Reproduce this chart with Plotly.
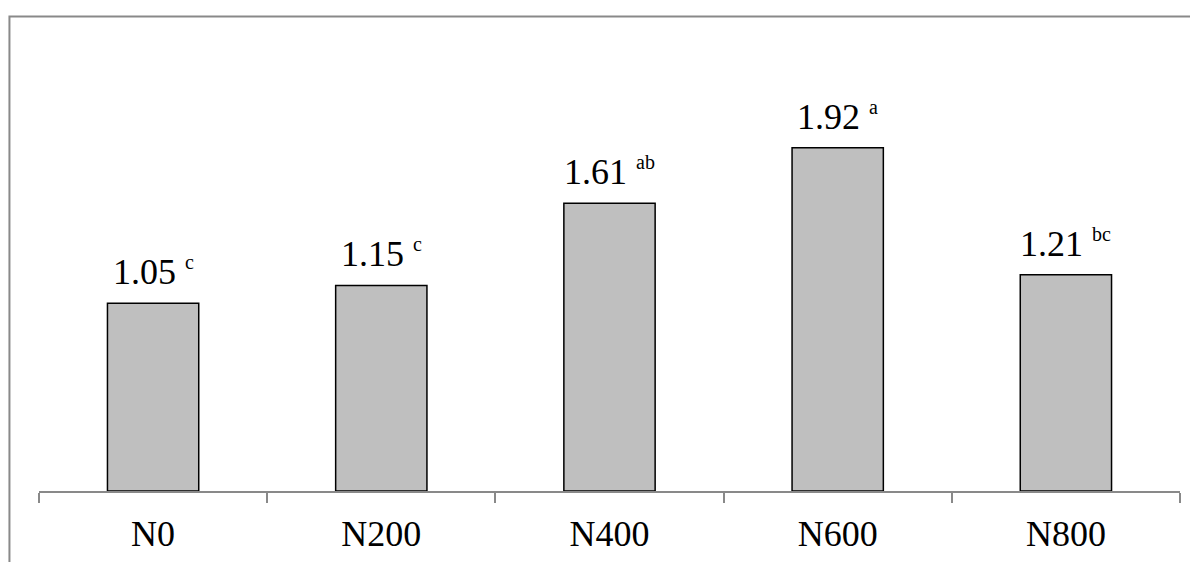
import plotly.graph_objects as go

categories = ["N0", "N200", "N400", "N600", "N800"]
values = [1.05, 1.15, 1.61, 1.92, 1.21]
letters = ["c", "c", "ab", "a", "bc"]

FONT = "Liberation Serif"

fig = go.Figure()
fig.add_trace(go.Bar(
    x=categories, y=values, width=0.4,
    marker=dict(color="#BFBFBF", line=dict(color="black", width=1.5)),
    hoverinfo="skip",
))

for c, v, l in zip(categories, values, letters):
    fig.add_annotation(
        x=c, y=v, xref="x", yref="y",
        text=f"{v:.2f} <sup><span style='font-size:20px'>{l}</span></sup>",
        showarrow=False, yanchor="bottom", yshift=9,
        font=dict(family=FONT, size=36, color="black"),
    )

# chart-area border (left and top edges visible)
fig.add_shape(type="path", xref="paper", yref="paper",
              path="M -0.0259,-0.3 L -0.0259,1.0615 L 1.2,1.0615",
              line=dict(color="#898989", width=2))

fig.update_layout(
    width=1198, height=562,
    margin=dict(l=31, r=26, t=36, b=79),
    paper_bgcolor="white", plot_bgcolor="white",
    showlegend=False,
    font=dict(family=FONT, size=36, color="black"),
    xaxis=dict(
        type="category", range=[-0.5, 4.5],
        showline=True, linecolor="#898989", linewidth=2,
        ticks="outside", tickson="boundaries", ticklen=10,
        tickcolor="#898989", tickwidth=2,
        ticklabelstandoff=10,
        tickfont=dict(family=FONT, size=36, color="black"),
        showgrid=False, zeroline=False,
    ),
    yaxis=dict(range=[0, 2.5], visible=False, showgrid=False, zeroline=False),
)

fig.write_html("out.html")
